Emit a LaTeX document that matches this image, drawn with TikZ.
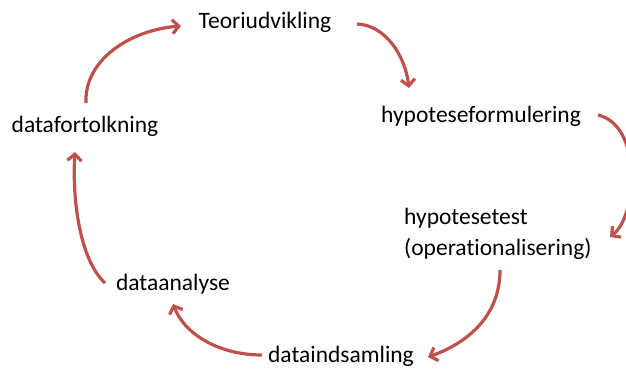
\documentclass[tikz,border=0pt]{standalone}
\usepackage{fontspec}
\setmainfont{Carlito}[Ligatures={NoCommon,NoRare}]
\usetikzlibrary{arrows.meta}
\definecolor{arrowred}{RGB}{192,80,77}
\tikzset{
  lbl/.style={inner sep=0pt, font=\fontsize{23.5}{31}\selectfont, text=black},
  cyc/.style={draw=arrowred, line width=3.2pt, -{Straight Barb[length=6.5pt,width=14pt]}}
}
\begin{document}
\begin{tikzpicture}[x=1pt,y=-1pt]
\useasboundingbox (0,0) rectangle (626,370);
\node[lbl] (teori) at (265,22) {Teoriudvikling};
\node[lbl] (hypf) at (481,116) {hypoteseformulering};
\node[lbl, align=left, anchor=north west] (hypt) at (404,208) {hypotesetest\\(operationalisering)};
\node[lbl] (indsam) at (341,356) {dataindsamling};
\node[lbl] (analyse) at (173,284) {dataanalyse};
\node[lbl] (fortolk) at (85,126) {datafortolkning};
\coordinate (s1) at (86,103);  \coordinate (e1) at (181,26);
\coordinate (s2) at (357,24);  \coordinate (e2) at (409,88);
\coordinate (s3) at (598,115); \coordinate (e3) at (610,237);
\coordinate (s4) at (500,270); \coordinate (e4) at (428,357);
\coordinate (s5) at (262,355); \coordinate (e5) at (173,304);
\coordinate (s6) at (105,283); \coordinate (e6) at (75,152);
\draw[cyc] (s1) .. controls (84,60) and (130,30) .. (e1);
\draw[cyc] (s2) .. controls (385,25) and (405,55) .. (e2);
\draw[cyc] (s3) .. controls (642,125) and (638,215) .. (e3);
\draw[cyc] (s4) .. controls (500,320) and (462,345) .. (e4);
\draw[cyc] (s5) .. controls (220,355) and (185,335) .. (e5);
\draw[cyc] (s6) .. controls (80,260) and (72,200) .. (e6);
\end{tikzpicture}
\end{document}
